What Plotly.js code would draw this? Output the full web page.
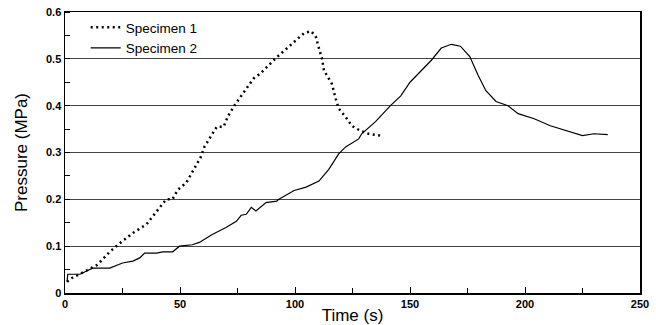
<!DOCTYPE html>
<html><head><meta charset="utf-8">
<script src="https://cdn.plot.ly/plotly-3.0.1.min.js"></script>
<style>html,body{margin:0;padding:0;background:#fff;}#chart{width:656px;height:325px;}</style>
</head><body><div id="chart"></div>
<script>
const s1Time = [0.9,3,7.8,14,19.5,24,29.5,35.5,39.8,44,46.7,49,52.8,56,59,60.6,64,66,69,70.7,73.6,75.8,78,80,82,85,88,92,95,98,101,104,107,109,110.4,111.7,112.6,114.7,116,117.7,119,122,124.7,128.6,132,137];
const s1Pressure = [0.024,0.032,0.044,0.06,0.088,0.107,0.128,0.147,0.174,0.2,0.2,0.22,0.236,0.264,0.29,0.312,0.34,0.355,0.355,0.376,0.4,0.415,0.432,0.443,0.458,0.469,0.484,0.503,0.516,0.529,0.544,0.555,0.559,0.548,0.523,0.501,0.475,0.458,0.447,0.415,0.394,0.376,0.357,0.346,0.34,0.336];
const s2Time = [0.9,1.2,6.5,8.7,12,19.5,25,29.5,32.5,34.6,39.8,42.5,46.8,49.8,55.4,58.4,64,70,74.5,76.6,78.8,81,83,87.4,92,93,99.6,104.8,110.4,114.7,119,122,127.7,129,135,141.5,146,150,154.5,159.3,163.6,168,171.9,176,179.6,183,187.4,192.6,197,204,211,218.6,225,230,236];
const s2Pressure = [0.024,0.04,0.04,0.045,0.053,0.053,0.064,0.068,0.075,0.085,0.085,0.088,0.088,0.1,0.103,0.108,0.125,0.14,0.153,0.166,0.168,0.183,0.175,0.193,0.196,0.2,0.219,0.226,0.239,0.264,0.297,0.312,0.329,0.34,0.366,0.4,0.421,0.45,0.473,0.497,0.523,0.531,0.527,0.505,0.465,0.432,0.409,0.4,0.383,0.372,0.357,0.346,0.336,0.34,0.338];
const xTicks = [0,50,100,150,200,250];
const yTicks = [0,0.1,0.2,0.3,0.4,0.5,0.6];
const yTickText = ['0','0.1','0.2','0.3','0.4','0.5','0.6'];
const seriesNames = ['Specimen 1','Specimen 2'];

const tickFont = {family:'Arial, Liberation Sans, sans-serif', size:11, color:'#000', weight:'bold'};
const data = [
  {x:s1Time, y:s1Pressure, name:seriesNames[0], mode:'lines', line:{color:'#000', width:2.5, dash:'2px,3.5px'}},
  {x:s2Time, y:s2Pressure, name:seriesNames[1], mode:'lines', line:{color:'#000', width:1.2}}
];
const layout = {
  width:656, height:325,
  margin:{l:65, r:16, t:12, b:32},
  paper_bgcolor:'#fff', plot_bgcolor:'#fff',
  showlegend:true,
  legend:{x:0.036, y:1.0, xanchor:'left', yanchor:'top', bgcolor:'rgba(0,0,0,0)', font:{family:'Arial, Liberation Sans, sans-serif', size:13.5, color:'#000'}, tracegroupgap:0},
  xaxis:{range:[0,250], tickvals:xTicks, ticktext:xTicks.map(String), ticks:'inside', ticklen:6, tickcolor:'#000',
    minor:{dtick:25, tick0:0, ticks:'inside', ticklen:5, tickcolor:'#000', showgrid:false},
    showgrid:false, zeroline:false, showline:true, linecolor:'#000', linewidth:1.5, mirror:true,
    tickfont:tickFont, title:{text:'Time (s)', font:{family:'Arial, Liberation Sans, sans-serif', size:17, color:'#000'}, standoff:0}},
  yaxis:{range:[0,0.6], tickvals:yTicks, ticktext:yTickText, ticks:'', showgrid:true, gridcolor:'#444', gridwidth:1.2,
    minor:{dtick:0.05, tick0:0, ticks:'inside', ticklen:5, tickcolor:'#000', showgrid:false},
    zeroline:false, showline:true, linecolor:'#000', linewidth:1.5, mirror:true,
    tickfont:tickFont, title:{text:'Pressure (MPa)', font:{family:'Arial, Liberation Sans, sans-serif', size:17, color:'#000'}, standoff:14}}
};
Plotly.newPlot('chart', data, layout, {staticPlot:true, displayModeBar:false});
</script></body></html>
